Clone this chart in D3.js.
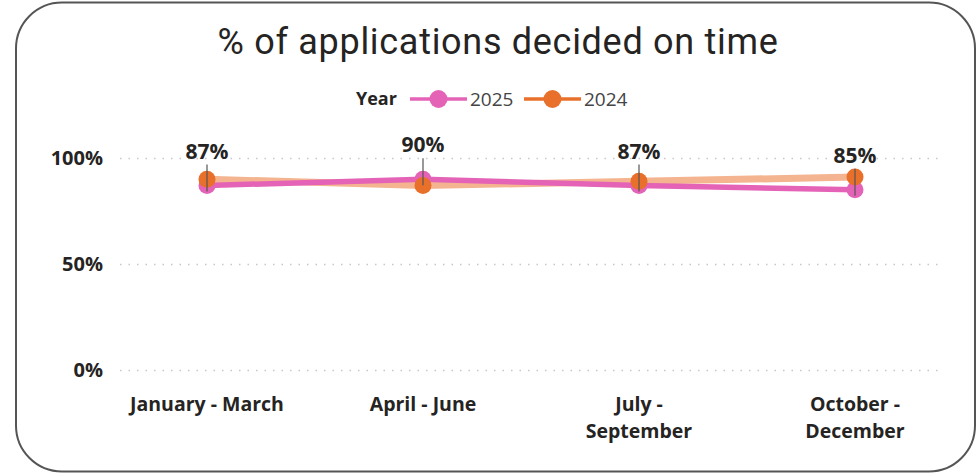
<!DOCTYPE html>
<html>
<head>
<meta charset="utf-8">
<script src="https://cdn.jsdelivr.net/npm/d3@7"></script>
<style>
  body { margin: 0; background: #fff; }
  svg { display: block; }
</style>
</head>
<body>
<div id="chart"></div>
<script>
// data
const quarters = ["January - March", "April - June", "July - September", "October - December"];
const quarterLines = [["January - March"], ["April - June"], ["July -", "September"], ["October -", "December"]];
const values2025 = [87, 90, 87, 85];
const values2024 = [90, 87, 89, 91];
const yTicks = [0, 50, 100];

const width = 977, height = 476;
const margin = { left: 120, top: 158, right: 37, bottom: 106 };
const labelFont = "'Open Sans', sans-serif";

const svg = d3.select("#chart").append("svg")
  .attr("width", width)
  .attr("height", height);

// card border
svg.append("rect")
  .attr("x", 16).attr("y", 2.5)
  .attr("width", 959).attr("height", 469)
  .attr("rx", 46).attr("ry", 46)
  .attr("fill", "#fff")
  .attr("stroke", "#555")
  .attr("stroke-width", 2);

// title
svg.append("text")
  .text("% of applications decided on time")
  .attr("x", 498).attr("y", 54)
  .attr("text-anchor", "middle")
  .style("font-family", "Roboto, 'Open Sans', sans-serif")
  .style("font-size", "36px")
  .style("letter-spacing", "0.7px")
  .attr("fill", "#252423");

// scales
const x = d3.scalePoint().domain(quarters).range([207, 855]);
const y = d3.scaleLinear().domain([0, 100]).range([370, 158]);

// gridlines
const grid = svg.append("g")
  .attr("transform", `translate(${margin.left},0)`)
  .call(d3.axisLeft(y).tickValues(yTicks).tickSize(-(940 - margin.left)).tickFormat(""));
grid.select(".domain").remove();
grid.selectAll("line")
  .attr("stroke", "#c8c8c8")
  .attr("stroke-width", 1.5)
  .attr("stroke-dasharray", "1.5,7");

// y axis labels
const yAxis = svg.append("g")
  .attr("transform", "translate(103,0)")
  .call(d3.axisLeft(y).tickValues(yTicks).tickSize(0).tickPadding(0).tickFormat(d => d + "%"));
yAxis.select(".domain").remove();
yAxis.selectAll("text")
  .style("font-family", labelFont)
  .style("font-weight", 700)
  .style("font-size", "20px")
  .attr("fill", "#252423");

// x axis labels
const xAxis = svg.append("g").attr("transform", "translate(0,405)");
xAxis.selectAll("text")
  .data(quarters)
  .enter()
  .append("text")
  .attr("x", d => x(d))
  .attr("text-anchor", "middle")
  .style("font-family", labelFont)
  .style("font-weight", 700)
  .style("font-size", "19.5px")
  .attr("fill", "#252423")
  .each(function (d, i) {
    d3.select(this).selectAll("tspan")
      .data(quarterLines[i])
      .enter()
      .append("tspan")
      .attr("x", x(d))
      .attr("dy", (t, j) => j === 0 ? "0.32em" : "1.35em")
      .text(t => t);
  });

// lines
const line = d3.line()
  .x((d, i) => x(quarters[i]))
  .y(d => y(d));

svg.append("path")
  .datum(values2024)
  .attr("d", line)
  .attr("fill", "none")
  .attr("stroke", "#f4b48f")
  .attr("stroke-width", 7)
  .attr("stroke-linejoin", "round");

svg.append("path")
  .datum(values2025)
  .attr("d", line)
  .attr("fill", "none")
  .attr("stroke", "#e463b6")
  .attr("stroke-width", 5.5)
  .attr("stroke-linejoin", "round");

svg.append("g").selectAll("circle")
  .data(values2025)
  .enter()
  .append("circle")
  .attr("cx", (d, i) => x(quarters[i]))
  .attr("cy", d => y(d))
  .attr("r", 8.5)
  .attr("fill", "#e463b6");

svg.append("g").selectAll("circle")
  .data(values2024)
  .enter()
  .append("circle")
  .attr("cx", (d, i) => x(quarters[i]))
  .attr("cy", d => y(d))
  .attr("r", 8.5)
  .attr("fill", "#e8702a");

// data labels for 2025 with leader lines
const labels = svg.append("g");
labels.selectAll("line")
  .data(values2025)
  .enter()
  .append("line")
  .attr("x1", (d, i) => x(quarters[i]))
  .attr("x2", (d, i) => x(quarters[i]))
  .attr("y1", d => y(d) - 21)
  .attr("y2", d => y(d) + 6)
  .attr("stroke", "#555")
  .attr("stroke-width", 1.2);

labels.selectAll("text")
  .data(values2025)
  .enter()
  .append("text")
  .text(d => d + "%")
  .attr("x", (d, i) => x(quarters[i]))
  .attr("y", d => y(d) - 27)
  .attr("text-anchor", "middle")
  .style("font-family", labelFont)
  .style("font-weight", 700)
  .style("font-size", "21px")
  .attr("fill", "#252423");

// legend
const legend = svg.append("g").attr("transform", "translate(0,99)");
legend.append("text")
  .text("Year")
  .attr("x", 356).attr("dy", "0.35em")
  .style("font-family", labelFont)
  .style("font-weight", 700)
  .style("font-size", "18px")
  .attr("fill", "#252423");

const legendItems = [
  { name: "2025", color: "#e463b6", x0: 410 },
  { name: "2024", color: "#e8702a", x0: 524 }
];
const item = legend.selectAll(".item")
  .data(legendItems)
  .enter()
  .append("g")
  .attr("class", "item")
  .attr("transform", d => `translate(${d.x0},0)`);
item.append("line")
  .attr("x1", 0).attr("x2", 57)
  .attr("stroke", d => d.color)
  .attr("stroke-width", 3.5);
item.append("circle")
  .attr("cx", 28.5).attr("r", 9)
  .attr("fill", d => d.color);
item.append("text")
  .text(d => d.name)
  .attr("x", 60).attr("dy", "0.35em")
  .style("font-family", labelFont)
  .style("font-size", "19px")
  .attr("fill", "#444");
</script>
</body>
</html>
